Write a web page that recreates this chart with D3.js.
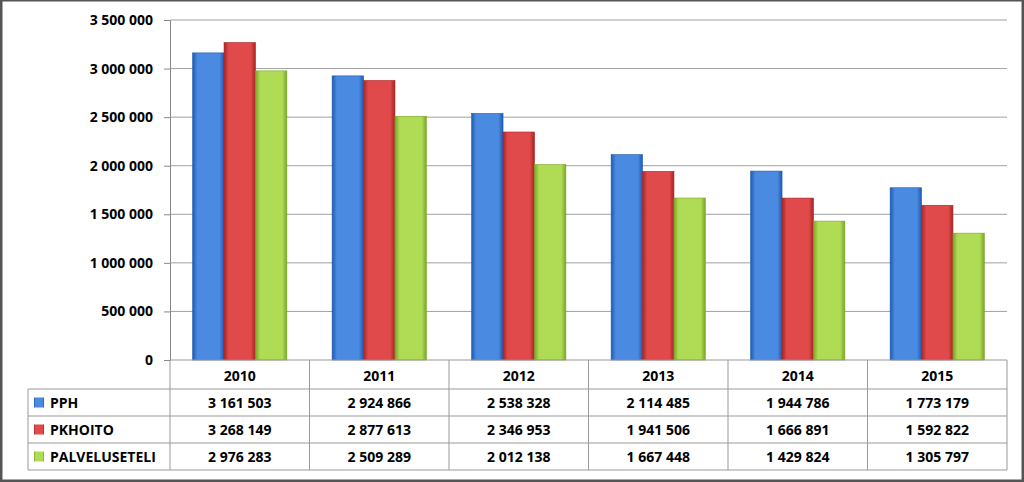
<!DOCTYPE html>
<html><head><meta charset="utf-8">
<script src="https://cdn.jsdelivr.net/npm/d3@7"></script>
<style>body{margin:0;background:#fff}text{font-family:"Open Sans",sans-serif;font-weight:bold;fill:#000}</style>
</head><body><svg id="c" width="1024" height="482"></svg>
<script>
const years = ['2010', '2011', '2012', '2013', '2014', '2015'];
const seriesNames = ['PPH', 'PKHOITO', 'PALVELUSETELI'];
const pph = [3161503, 2924866, 2538328, 2114485, 1944786, 1773179];
const pkhoito = [3268149, 2877613, 2346953, 1941506, 1666891, 1592822];
const palveluseteli = [2976283, 2509289, 2012138, 1667448, 1429824, 1305797];
const yTicks = [0, 500000, 1000000, 1500000, 2000000, 2500000, 3000000, 3500000];

const series = [pph, pkhoito, palveluseteli];
const colors = [['#1f5bb0', '#4a8ae0'], ['#a82424', '#e04a4a'], ['#7aa52a', '#b0dc55']];
const fmt = v => d3.format(',')(v).replace(/,/g, ' ');

const svg = d3.select('#c');
const pLeft = 170, pRight = 1007, pTop = 20, pBottom = 360;
const x = d3.scaleBand().domain(years).range([pLeft, pRight]);
const xi = d3.scaleBand().domain(d3.range(3)).range([0, x.bandwidth()]).paddingOuter(0.72);
const y = d3.scaleLinear().domain([0, 3500000]).range([pBottom, pTop]);

const defs = svg.append('defs');
colors.forEach((c, i) => {
  const g = defs.append('linearGradient').attr('id', 'g' + i);
  [[0, c[0]], [0.15, c[1]], [0.85, c[1]], [1, c[0]]].forEach(s =>
    g.append('stop').attr('offset', s[0]).attr('stop-color', s[1]));
});

svg.append('rect').attr('x', 1).attr('y', 0).attr('width', 1022).attr('height', 481)
  .attr('fill', 'none').attr('stroke', '#555').attr('stroke-width', 3);

svg.append('g').selectAll('line').data(yTicks.slice(1)).join('line')
  .attr('x1', pLeft).attr('x2', pRight).attr('y1', d => y(d)).attr('y2', d => y(d))
  .attr('stroke', '#a0a0a0');

const ax = svg.append('g').attr('transform', `translate(${pLeft},0)`)
  .call(d3.axisLeft(y).tickValues(yTicks).tickFormat(fmt).tickSize(6));
ax.select('.domain').attr('stroke', '#888');
ax.selectAll('.tick line').attr('stroke', '#888');
ax.selectAll('text').attr('font-size', 14).attr('dx', -8);

series.forEach((s, i) => {
  svg.append('g').selectAll('rect').data(s).join('rect')
    .attr('x', (d, j) => x(years[j]) + xi(i)).attr('width', xi.bandwidth())
    .attr('y', d => y(d)).attr('height', d => pBottom - y(d))
    .attr('fill', `url(#g${i})`).attr('stroke', colors[i][0]).attr('stroke-width', 0.6);
});

// data table
const rowY = [pBottom, 389, 416, 443, 470];
const tl = 28;
const tg = svg.append('g').attr('stroke', '#999').attr('fill', 'none');
tg.append('line').attr('x1', pLeft).attr('x2', pRight).attr('y1', pBottom).attr('y2', pBottom);
rowY.slice(1).forEach(r => tg.append('line').attr('x1', tl).attr('x2', pRight).attr('y1', r).attr('y2', r));
years.forEach(yr => tg.append('line').attr('x1', x(yr)).attr('x2', x(yr)).attr('y1', pBottom).attr('y2', 470));
tg.append('line').attr('x1', pRight).attr('x2', pRight).attr('y1', pBottom).attr('y2', 470);
tg.append('line').attr('x1', tl).attr('x2', tl).attr('y1', 389).attr('y2', 470);

svg.append('g').selectAll('text').data(years).join('text')
  .attr('x', d => x(d) + x.bandwidth() / 2).attr('y', 381).attr('text-anchor', 'middle')
  .attr('font-size', 14).text(d => d);

series.forEach((s, i) => {
  const cy = (rowY[i + 1] + rowY[i + 2]) / 2;
  svg.append('rect').attr('x', 34).attr('y', cy - 5).attr('width', 10).attr('height', 10)
    .attr('fill', `url(#g${i})`);
  svg.append('text').attr('x', 50).attr('y', cy + 5).attr('font-size', 14).text(seriesNames[i]);
  svg.append('g').selectAll('text').data(s).join('text')
    .attr('x', (d, j) => x(years[j]) + x.bandwidth() / 2).attr('y', cy + 5)
    .attr('text-anchor', 'middle').attr('font-size', 14).text(fmt);
});
</script></body></html>
